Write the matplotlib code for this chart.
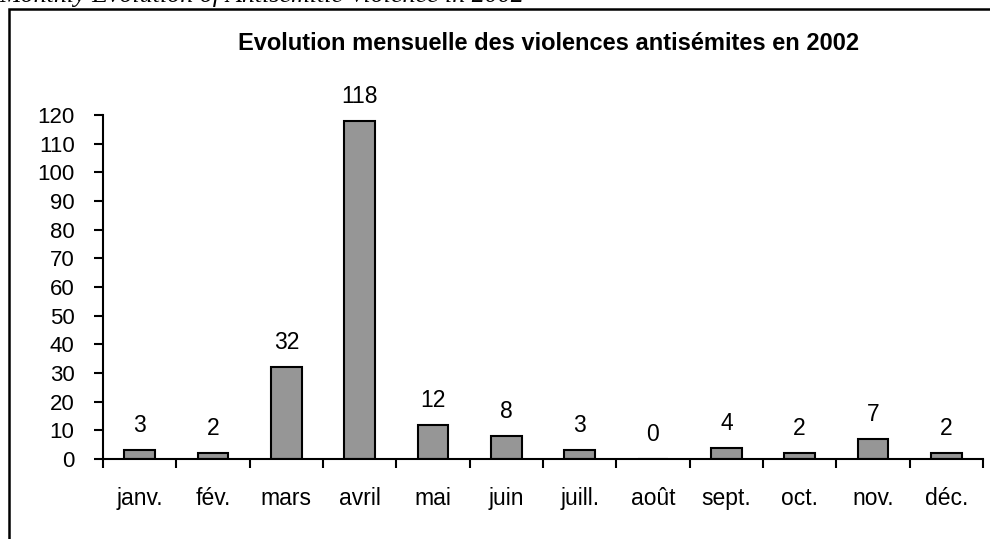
import matplotlib.pyplot as plt
from matplotlib.patches import Rectangle

# data
mois = ["janv.", "fév.", "mars", "avril", "mai", "juin", "juill.", "août",
        "sept.", "oct.", "nov.", "déc."]
violences = [3, 2, 32, 118, 12, 8, 3, 0, 4, 2, 7, 2]
yticks = list(range(0, 121, 10))

plt.rcParams['font.family'] = ['Liberation Sans', 'DejaVu Sans']

fig = plt.figure(figsize=(9.9, 5.39), dpi=100)

# caption cut off by the top edge of the crop
fig.text(-1 / 990, 1 - 2 / 539, "Monthly Evolution of Antisemitic Violence in 2002",
         family=['Liberation Serif'], style='italic', fontsize=18.7,
         ha='left', va='baseline')

# chart frame (continues past the right and bottom of the crop)
fig.patches.append(Rectangle((9 / 990, -0.1), 1.2, 1 - 9 / 539 + 0.1,
                             transform=fig.transFigure, fill=False,
                             edgecolor='black', linewidth=1.8))

fig.text(549 / 990, 1 - 43 / 539,
         "Evolution mensuelle des violences antisémites en 2002",
         fontsize=17, fontweight='bold', ha='center', va='center')

ax = fig.add_axes([103 / 990, 1 - 459 / 539, 880 / 990, 344 / 539])
x = list(range(len(mois)))
ax.bar(x, violences, width=0.42, color='#969696', edgecolor='black',
       linewidth=1.5)

for xi, v in zip(x, violences):
    ax.annotate(str(v), (xi, v), xytext=(0, 18), textcoords='offset pixels',
                ha='center', va='baseline', fontsize=16.5, annotation_clip=False)

ax.set_xlim(-0.5, len(mois) - 0.5)
ax.set_ylim(0, 120)
ax.set_yticks(yticks)
ax.tick_params(axis='y', direction='out', length=6.5, width=1.5,
               labelsize=16, pad=14)

# ticks on the category boundaries, labels centred under the bars
ax.set_xticks([i - 0.5 for i in range(len(mois) + 1)])
ax.set_xticklabels([])
ax.set_xticks(x, minor=True)
ax.set_xticklabels(mois, minor=True)
ax.tick_params(axis='x', which='major', direction='out', length=6.5, width=1.5)
ax.tick_params(axis='x', which='minor', length=0, labelsize=16.5, pad=20)

for side in ['top', 'right']:
    ax.spines[side].set_visible(False)
for side in ['left', 'bottom']:
    ax.spines[side].set_linewidth(1.5)
ax.patch.set_visible(False)

fig.savefig("out.png", dpi=100)
